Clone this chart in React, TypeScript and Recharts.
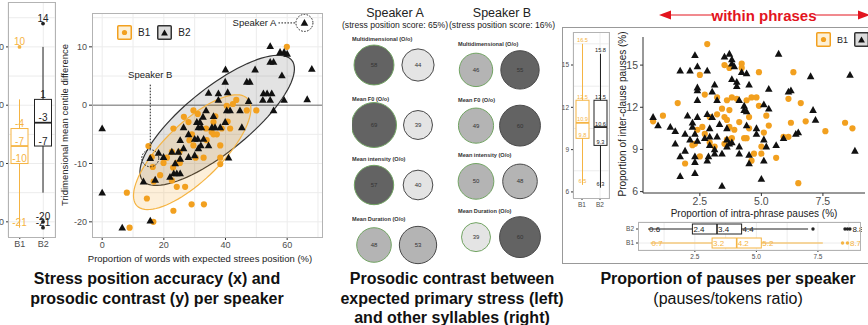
import React from 'react';
import {
  Bar,
  CartesianGrid,
  ComposedChart,
  ReferenceLine,
  Scatter,
  ScatterChart,
  XAxis,
  YAxis,
  ZAxis,
} from 'recharts';

const FONT = '"Liberation Sans", Arial, sans-serif';
const ORANGE = '#f2a01f';
const ORANGE_BOX = '#f5b443';
const GRID = '#ececec';
const FRAME = '#b3b3b3';
const TICK = '#4d4d4d';

// ---- panel 1: stress position accuracy vs prosodic contrast ----
const accuracyB1: [number, number][] = [
  [59.9, 10], [8, -15], [8.9, -21], [14.5, -16], [16.6, -20], [23.1, -18.1], [29, -17], [33, -17],
  [24.2, -14], [26.9, -14], [16.7, -13.1], [22.6, -12.9], [18.8, -12], [16.4, -10.6], [19.9, -9.9],
  [24.2, -9.9], [25.2, -9.9], [23, -10.7], [21, -9], [16.1, -8.9], [15, -7], [22.6, -8], [25.1, -8],
  [30.3, -9], [32.9, -9], [38.3, -9], [38.3, -10.1], [29.6, -6.9], [38.3, -6.9], [28.3, -6], [33.9, -6],
  [29.1, -5], [36.1, -5], [37.2, -5], [23.1, -4], [33.7, -4], [38.8, -4], [41.5, -4], [28, -2.9],
  [36.1, -2.9], [40.7, -2.8], [36.7, -1.9], [29.6, -0.9], [46.9, -0.9], [50, -0.9], [40.4, -0.1],
  [42.4, 0.2], [43.5, 0.9], [35.5, -4.6], [31, -1.5], [26.5, -2],
];
const accuracyB2: [number, number][] = [
  [0, -4], [0, -15], [6.5, -21], [15.6, -19.8], [13.4, -13.1], [15.6, -9.1], [17.2, -12.8], [18.3, -8.2],
  [19.9, -8.9], [22, -12.3], [22.6, -8], [23.2, -11.7], [24.2, -11.7], [25.3, -11.7], [23.7, -10],
  [25.3, -9.2], [24.7, -8], [26.4, -7.4], [25.3, -6], [28, -8.9], [30, -8.6], [28, -5], [26.4, -3.8],
  [30, -5.8], [31, -5.8], [32.9, -5.8], [32, -6.9], [34.5, -6.9], [31.2, -7.4], [31.2, -3.8], [32.2, -3.8],
  [30.7, -2.9], [31.7, -2.9], [32.7, -2], [33.7, -0.9], [34.5, 2.1], [35.6, -3.8], [36.6, -3.8],
  [36.1, -1.9], [37.7, 2], [37.7, 0.9], [38.3, -3.8], [39.9, -2.9], [40.4, -0.9], [41.5, -0.9], [41, -9],
  [44.7, -0.9], [45.3, -3.8], [39.9, 4], [40.7, 2.2], [40, 6.1], [46.9, 4], [47.9, 4], [47.5, 0.7],
  [49.6, 6.1], [52.3, 2], [53.5, 2], [55, 2], [52.1, 0.9], [54.5, 0.9], [55.6, -0.9], [54.5, 7.4],
  [55.6, 7.4], [54.5, 10.1], [57.7, 9.1], [59, 9.1], [58.3, 5.1], [59, 0.9], [60, 8.8], [65.6, 14.1],
  [68, 6.2], [66.5, 1],
];
const highlightedSpeakers = [
  { x: 65.6, y: 14.1, name: 'Speaker A', side: 'left' },
  { x: 15.6, y: -9.1, name: 'Speaker B', side: 'top' },
];
// data ellipses: centre and two conjugate half-axes, in data units
const ellipseB1 = { cx: 29.2, cy: -8.06, ux: 17.9, uy: 9.2, vx: 6.5, vy: -3.5 };
const ellipseB2 = { cx: 37.3, cy: -2.6, ux: 24.2, uy: 10.3, vx: 6.5, vy: -4.3 };

const contrastBoxes = [
  { g: 'B1', low: -21, q1: -10, med: -7, q3: -4, high: 1, out: [10], labels: [10, -4, -7, -10, -21] },
  { g: 'B2', low: -15, q1: -7, med: -3, q3: 1, high: 10, out: [14, -20, -21], labels: [14, 1, -3, -7, -20, -21] },
];

// ---- panel 2: prosodic contrast bubbles ----
const metrics = ['Multidimensional', 'Mean F0', 'Mean intensity', 'Mean Duration'];
const speakerAStressed = [58, 69, 57, 48];
const speakerAOther = [44, 39, 40, 53];
const speakerBStressed = [46, 49, 50, 39];
const speakerBOther = [55, 60, 48, 60];

// ---- panel 3: pauses ----
const pausesB1: [number, number][] = [
  [0.6, 11.0], [1.0, 11.4], [1.6, 12.3], [1.9, 8.0], [2.2, 9.3], [2.3, 9.4], [2.4, 10.4], [2.5, 14.3],
  [2.5, 8.5], [2.6, 10.6], [2.7, 12.9], [2.7, 10.1], [2.8, 16.5], [2.9, 11.3], [2.9, 9.5], [3.1, 9.2],
  [3.2, 11.5], [3.2, 12.7], [3.4, 11.9], [3.5, 11.3], [3.5, 15.0], [3.5, 9.4], [3.6, 9.7], [3.6, 11.1],
  [3.6, 12.5], [3.7, 11.8], [3.7, 14.8], [3.7, 10.6], [3.8, 12.7], [3.8, 9.8], [3.9, 10.4], [4.0, 12.6],
  [4.1, 10.95], [4.2, 15.1], [4.2, 14.8], [4.3, 9.8], [4.4, 12.5], [4.4, 9.8], [4.5, 10.5], [4.5, 11.3],
  [4.6, 12.7], [4.6, 8.2], [4.7, 8.7], [4.8, 12.7], [4.9, 14.5], [4.9, 12.1], [5.0, 9.2], [5.0, 8.7],
  [5.1, 10.2], [5.2, 11.4], [5.3, 10.7], [5.6, 8.4], [5.9, 9.9], [6.1, 9.9], [6.1, 12.6], [6.2, 10.9],
  [6.3, 14.5], [6.5, 6.6], [6.6, 12.3], [6.8, 11.0], [7.6, 10.3], [8.4, 10.9], [8.7, 10.5],
];
const pausesB2: [number, number][] = [
  [0.6, 11.3], [0.8, 10.7], [1.3, 10.6], [1.5, 10.3], [1.7, 14.6], [1.7, 7.1], [1.7, 8.5], [1.5, 9.4],
  [1.9, 8.9], [2.0, 11.4], [1.9, 10.1], [2.1, 14.6], [2.1, 9.7], [2.2, 10.9], [2.2, 10.6], [2.3, 15.7],
  [2.3, 7.3], [2.3, 8.5], [2.3, 8.1], [2.4, 13.4], [2.4, 13.2], [2.4, 14.9], [2.4, 12.5], [2.4, 11.3],
  [2.3, 10.1], [2.4, 9.6], [2.7, 9.8], [2.8, 14.6], [2.8, 11.5], [2.8, 8.2], [2.85, 8.5], [2.9, 10.5],
  [2.9, 9.9], [2.9, 9.3], [3.0, 11.3], [3.0, 13.1], [3.1, 13.6], [3.1, 8.7], [3.1, 9.0], [3.2, 12.5],
  [3.2, 9.9], [3.3, 10.8], [3.4, 6.4], [3.4, 8.7], [3.5, 15.6], [3.7, 15.8], [3.8, 15.4], [3.8, 15.1],
  [3.6, 10.5], [3.6, 9.2], [3.6, 9.7], [3.7, 9.4], [3.8, 9.5], [3.9, 14.9], [3.8, 14.0], [4.0, 13.8],
  [4.0, 13.5], [4.1, 12.5], [4.1, 9.2], [4.1, 8.7], [4.2, 14.5], [4.3, 12.1], [4.3, 11.8], [4.4, 11.7],
  [4.4, 14.4], [4.5, 13.6], [4.4, 10.7], [4.5, 8.6], [4.5, 8.0], [4.8, 10.5], [4.8, 10.1], [5.1, 9.7],
  [5.1, 12.2], [5.0, 6.9], [5.1, 8.2], [5.2, 9.2], [5.3, 11.9], [5.3, 13.3], [5.6, 9.3], [5.7, 15.8],
  [5.9, 9.8], [6.1, 13.1], [6.2, 13.2], [6.4, 10.1], [6.5, 10.2], [7.0, 14.2], [7.1, 11.8], [7.2, 11.1],
  [8.6, 14.3], [8.8, 8.9],
];
const interClauseBoxes = [
  { g: 'B1', low: 6.5, q1: 9.8, med: 10.9, q3: 12.5, high: 16.5, out: [] as number[], labels: [16.5, 12.5, 10.9, 9.8, 6.5] },
  { g: 'B2', low: 6.3, q1: 9.3, med: 10.6, q3: 12.5, high: 15.8, out: [] as number[], labels: [15.8, 12.5, 10.6, 9.3, 6.3] },
];
const intraPhraseBoxes = [
  { g: 'B2', low: 0.6, q1: 2.4, med: 3.4, q3: 4.4, high: 7.1, out: [7.3, 8.6, 8.7, 8.8], labels: [0.6, 2.4, 3.4, 4.4, 8.8] },
  { g: 'B1', low: 0.7, q1: 3.2, med: 4.2, q3: 5.2, high: 7.7, out: [8.5, 8.7], labels: [0.7, 3.2, 4.2, 5.2, 8.7] },
];

const toPoints = (arr: [number, number][]) => arr.map(([x, y]) => ({ x, y }));

function ellipsePoints(e: typeof ellipseB1) {
  const pts = [];
  for (let i = 0; i <= 90; i++) {
    const t = (i / 90) * Math.PI * 2;
    pts.push({
      x: e.cx + e.ux * Math.cos(t) + e.vx * Math.sin(t),
      y: e.cy + e.uy * Math.cos(t) + e.vy * Math.sin(t),
    });
  }
  return pts;
}

const triPath = (cx: number, cy: number, s = 4) =>
  `M${cx},${cy - s}L${cx + s * 0.95},${cy + s * 0.7}L${cx - s * 0.95},${cy + s * 0.7}Z`;

const TriangleShape = (p: any) => <path d={triPath(p.cx, p.cy)} fill="#111" />;
const DotShape = (p: any) => <circle cx={p.cx} cy={p.cy} r={3.1} fill={ORANGE} />;
const NoShape = () => <g />;

const SpeakerMark = (p: any) => {
  const { cx, cy, payload } = p;
  const dash = '1.6 1.4';
  return (
    <g>
      <circle cx={cx} cy={cy} r={8.5} fill="none" stroke="#222" strokeDasharray={dash} />
      {payload.side === 'left' ? (
        <>
          <line x1={cx - 26} y1={cy} x2={cx - 9} y2={cy} stroke="#222" strokeDasharray={dash} />
          <text x={cx - 28} y={cy + 3.5} textAnchor="end" fontSize={9.5} fill="#222" fontFamily={FONT}>
            {payload.name}
          </text>
        </>
      ) : (
        <>
          <line x1={cx} y1={cy - 9} x2={cx} y2={cy - 75} stroke="#222" strokeDasharray={dash} />
          <text x={cx} y={cy - 80} textAnchor="middle" fontSize={9.5} fill="#222" fontFamily={FONT}>
            {payload.name}
          </text>
        </>
      )}
    </g>
  );
};

// vertical box: the bar spans low..high, the rest is placed on the same linear scale
const makeVBox = (colorOf: (g: string) => string, fs: number, fmt: (v: number) => string) => (p: any) => {
  const { x, y, width, height, payload } = p;
  const top = Math.min(y, y + height);
  const bot = Math.max(y, y + height);
  const py = (v: number) => bot - ((v - payload.low) / (payload.high - payload.low)) * (bot - top);
  const cx = x + width / 2;
  const c = colorOf(payload.g);
  return (
    <g>
      <line x1={cx} x2={cx} y1={py(payload.high)} y2={py(payload.low)} stroke={c} strokeWidth={1} />
      <rect x={x} y={py(payload.q3)} width={width} height={py(payload.q1) - py(payload.q3)} fill="#fff" stroke={c} strokeWidth={1} />
      <line x1={x} x2={x + width} y1={py(payload.med)} y2={py(payload.med)} stroke={c} strokeWidth={1.8} />
      {payload.out.map((v: number, i: number) => (
        <circle key={i} cx={cx} cy={py(v)} r={1.9} fill={c} />
      ))}
      {payload.labels.map((v: number, i: number) => (
        <text key={i} x={cx} y={py(v) - 1.5} textAnchor="middle" fontSize={fs} fill={c} fontFamily={FONT}>
          {fmt(v)}
        </text>
      ))}
    </g>
  );
};

const HBox = (p: any) => {
  const { x, y, width, height, payload } = p;
  const left = Math.min(x, x + width);
  const right = Math.max(x, x + width);
  const px = (v: number) => left + ((v - payload.low) / (payload.high - payload.low)) * (right - left);
  const cy = y + height / 2;
  const c = payload.g === 'B1' ? ORANGE_BOX : '#222';
  return (
    <g>
      <line x1={px(payload.low)} x2={px(payload.high)} y1={cy} y2={cy} stroke={c} />
      <rect x={px(payload.q1)} y={y} width={px(payload.q3) - px(payload.q1)} height={height} fill="#fff" stroke={c} />
      <line x1={px(payload.med)} x2={px(payload.med)} y1={y} y2={y + height} stroke={c} strokeWidth={1.6} />
      {payload.out.map((v: number, i: number) => (
        <circle key={i} cx={px(v)} cy={cy} r={1.7} fill={c} />
      ))}
      {payload.labels.map((v: number, i: number) => (
        <text
          key={i}
          x={px(v) + (payload.out.includes(v) ? 2.5 : 1)}
          y={cy + 3}
          fontSize={8}
          fill={c}
          fontFamily={FONT}
        >
          {v.toFixed(1)}
        </text>
      ))}
    </g>
  );
};

const Bubble = (p: any) => {
  const { cx, cy, width, payload, labelDx } = p;
  const r = width / 2;
  const v = payload.v;
  const fill = v >= 55 ? '#636363' : v >= 45 ? '#b4b4b4' : '#e4e4e4';
  const stroke = payload.col === 0 ? '#72a463' : '#4a4a4a';
  return (
    <g>
      <circle cx={cx} cy={cy} r={r} fill={fill} stroke={stroke} strokeWidth={1} />
      <text x={cx} y={cy + 2} textAnchor="middle" fontSize={6} fill="#333" fontFamily={FONT}>
        {v}
      </text>
      {payload.col === 0 && (
        <text x={cx + labelDx} y={cy - 24} fontSize={5.6} fontWeight="bold" fill="#333" fontFamily={FONT}>
          {payload.metric} (O/o)
        </text>
      )}
    </g>
  );
};

function bubbleRows(stressed: number[], other: number[]) {
  return metrics.flatMap((m, i) => [
    { metric: m, row: i, col: 0, v: stressed[i] },
    { metric: m, row: i, col: 1, v: other[i] },
  ]);
}

function BubbleChart({ stressed, other, height, labelDx }: { stressed: number[]; other: number[]; height: number; labelDx: number }) {
  return (
    <ScatterChart width={88} height={height} margin={{ top: 0, right: 0, bottom: 0, left: 0 }}>
      <XAxis type="number" dataKey="col" domain={[-0.5, 1.5]} hide />
      <YAxis type="number" dataKey="row" domain={[-0.5, 3.5]} reversed hide />
      <ZAxis type="number" dataKey="v" domain={[39, 69]} range={[660, 1590]} />
      <Scatter
        data={bubbleRows(stressed, other)}
        shape={(p: any) => <Bubble {...p} labelDx={labelDx} />}
        isAnimationActive={false}
      />
    </ScatterChart>
  );
}

const abs = (left: number, top: number, extra: React.CSSProperties = {}): React.CSSProperties => ({
  position: 'absolute',
  left,
  top,
  ...extra,
});

const frame = (left: number, top: number, w: number, h: number): React.CSSProperties => ({
  position: 'absolute',
  left,
  top,
  width: w,
  height: h,
  border: `1px solid ${FRAME}`,
  boxSizing: 'border-box',
  pointerEvents: 'none',
});

const caption: React.CSSProperties = {
  position: 'absolute',
  width: 320,
  textAlign: 'center',
  fontSize: 16,
  lineHeight: '19.5px',
  color: '#111',
  fontFamily: FONT,
};

function LegendBox({ kind }: { kind: 'B1' | 'B2' }) {
  return (
    <svg width={15} height={15} style={{ display: 'block' }}>
      {kind === 'B1' ? (
        <>
          <rect x={0.75} y={0.75} width={13.5} height={13.5} fill="#fdf0d6" stroke={ORANGE} strokeWidth={1.5} rx={1} />
          <circle cx={7.5} cy={7.5} r={2.6} fill={ORANGE} />
        </>
      ) : (
        <>
          <rect x={0.75} y={0.75} width={13.5} height={13.5} fill="#dcdcdc" stroke="#333" strokeWidth={1.5} rx={1} />
          <path d={triPath(7.5, 8, 3.6)} fill="#111" />
        </>
      )}
    </svg>
  );
}

export default function App() {
  const tickStyle = { fontSize: 9, fill: TICK, fontFamily: FONT };
  const smallTick = { fontSize: 6.5, fill: TICK, fontFamily: FONT };
  return (
    <div
      style={{
        position: 'absolute',
        left: 0,
        top: 0,
        width: 868,
        height: 325,
        overflow: 'hidden',
        background: '#fff',
        fontFamily: FONT,
      }}
    >
      {/* panel 1, marginal box plot */}
      <div style={abs(0, 0)}>
        <ComposedChart width={56} height={250} data={contrastBoxes} margin={{ top: 2, right: 1, bottom: 0, left: 0 }}>
          <CartesianGrid stroke={GRID} horizontalValues={[-20, -15, -10, -5, 0, 5, 10, 15]} />
          <XAxis dataKey="g" type="category" height={13} tick={tickStyle} tickSize={2} axisLine={false} tickLine={{ stroke: '#333' }} />
          <YAxis type="number" domain={[-22.6, 17.7]} ticks={[-20, -10, 0, 10]} width={8} tick={tickStyle} tickSize={2} axisLine={false} tickLine={{ stroke: '#333' }} />
          <Bar
            dataKey={(d: any) => [d.low, d.high]}
            barSize={17}
            isAnimationActive={false}
            shape={makeVBox((g) => (g === 'B1' ? ORANGE_BOX : '#222'), 10, (v) => String(v))}
          />
        </ComposedChart>
      </div>
      <div style={frame(8, 2, 48, 236)} />

      {/* panel 1, scatter */}
      <div style={abs(60, 0)}>
        <ScatterChart width={264} height={268} margin={{ top: 13, right: 2, bottom: 0, left: 0 }}>
          <CartesianGrid
            stroke={GRID}
            verticalValues={[0, 10, 20, 30, 40, 50, 60, 70]}
            horizontalValues={[-20, -15, -10, -5, 5, 10, 15]}
          />
          <XAxis type="number" dataKey="x" domain={[-3.3, 71.3]} ticks={[0, 20, 40, 60]} height={31} tick={tickStyle} tickSize={3} axisLine={false} tickLine={{ stroke: '#333' }} />
          <YAxis type="number" dataKey="y" domain={[-22.6, 15.8]} ticks={[-20, -10, 0, 10]} width={32} tick={tickStyle} tickSize={3} axisLine={false} tickLine={{ stroke: '#333' }} />
          <ReferenceLine y={0} stroke="#555" strokeWidth={0.9} />
          <Scatter
            data={ellipsePoints(ellipseB2)}
            line={{ stroke: '#333', strokeWidth: 1.2, fill: 'rgba(0,0,0,0.11)' }}
            shape={NoShape}
            isAnimationActive={false}
          />
          <Scatter
            data={ellipsePoints(ellipseB1)}
            line={{ stroke: ORANGE_BOX, strokeWidth: 1.2, fill: 'rgba(242,160,31,0.17)' }}
            shape={NoShape}
            isAnimationActive={false}
          />
          <Scatter data={toPoints(accuracyB1)} shape={DotShape} isAnimationActive={false} />
          <Scatter data={toPoints(accuracyB2)} shape={TriangleShape} isAnimationActive={false} />
          <Scatter data={highlightedSpeakers} shape={SpeakerMark} isAnimationActive={false} />
        </ScatterChart>
      </div>
      <div style={frame(92, 13, 231, 225)} />
      <div style={abs(117, 25, { display: 'flex', alignItems: 'center', fontSize: 10, color: '#222' })}>
        <LegendBox kind="B1" />
        <span style={{ margin: '0 7px 0 6px' }}>B1</span>
        <LegendBox kind="B2" />
        <span style={{ marginLeft: 6 }}>B2</span>
      </div>
      <div
        style={abs(64, 125, {
          transform: 'translate(-50%, -50%) rotate(-90deg)',
          whiteSpace: 'nowrap',
          fontSize: 9.5,
          color: '#222',
        })}
      >
        Tridimensional mean centile difference
      </div>
      <div style={abs(200, 258, { transform: 'translate(-50%, -50%)', whiteSpace: 'nowrap', fontSize: 9.5, color: '#222' })}>
        Proportion of words with expected strees position (%)
      </div>

      {/* panel 2, bubbles */}
      <div style={abs(395, 13, { transform: 'translate(-50%, -50%)', whiteSpace: 'nowrap', fontSize: 12.5, color: '#222' })}>
        Speaker A
      </div>
      <div style={abs(395, 24.5, { transform: 'translate(-50%, -50%)', whiteSpace: 'nowrap', fontSize: 8.6, color: '#222' })}>
        (stress position score: 65%)
      </div>
      <div style={abs(502, 13, { transform: 'translate(-50%, -50%)', whiteSpace: 'nowrap', fontSize: 12.5, color: '#222' })}>
        Speaker B
      </div>
      <div style={abs(502, 24.5, { transform: 'translate(-50%, -50%)', whiteSpace: 'nowrap', fontSize: 8.6, color: '#222' })}>
        (stress position score: 16%)
      </div>
      <div style={abs(352, 35)}>
        <BubbleChart stressed={speakerAStressed} other={speakerAOther} height={240} labelDx={-22} />
      </div>
      <div style={abs(454, 42)}>
        <BubbleChart stressed={speakerBStressed} other={speakerBOther} height={223} labelDx={-18} />
      </div>

      {/* panel 3 */}
      <svg width={868} height={30} style={abs(0, 0)}>
        <line x1={668} x2={714} y1={15} y2={15} stroke="#e3141e" strokeWidth={1} />
        <path d="M659,15 L671,10.5 L671,19.5 Z" fill="#e3141e" />
        <line x1={815} x2={862} y1={15} y2={15} stroke="#e3141e" strokeWidth={1} />
        <path d="M870,15 L858,10.5 L858,19.5 Z" fill="#e3141e" />
        <text x={764} y={20.5} textAnchor="middle" fontSize={15} fontWeight="bold" fill="#e3141e" fontFamily={FONT}>
          within phrases
        </text>
      </svg>
      <div style={{ ...frame(562, 27, 320, 237), borderColor: '#999' }} />

      <div style={abs(555, 0)}>
        <ComposedChart width={56} height={210} data={interClauseBoxes} margin={{ top: 32, right: 2, bottom: 0, left: 0 }}>
          <CartesianGrid stroke={GRID} horizontalValues={[6, 7.5, 9, 10.5, 12, 13.5, 15, 16.5]} />
          <XAxis dataKey="g" type="category" height={12} tick={smallTick} tickSize={2} axisLine={false} tickLine={{ stroke: '#333' }} />
          <YAxis type="number" domain={[5.57, 17.34]} ticks={[6, 9, 12, 15]} width={18} tick={smallTick} tickSize={2} axisLine={false} tickLine={{ stroke: '#333' }} />
          <Bar
            dataKey={(d: any) => [d.low, d.high]}
            barSize={13}
            isAnimationActive={false}
            shape={makeVBox((g) => (g === 'B1' ? ORANGE_BOX : '#222'), 5.6, (v) => v.toFixed(1))}
          />
        </ComposedChart>
      </div>
      <div style={frame(573, 32, 37, 167)} />

      <div style={abs(600, 0)}>
        <ScatterChart width={270} height={222} margin={{ top: 37, right: 5, bottom: 0, left: 0 }}>
          <XAxis
            type="number"
            dataKey="x"
            domain={[0.19, 9.21]}
            ticks={[2.5, 5, 7.5]}
            tickFormatter={(v: number) => v.toFixed(1)}
            height={29}
            tick={{ ...tickStyle, fontSize: 10.5 }}
            tickSize={3}
            axisLine={{ stroke: '#333' }}
            tickLine={{ stroke: '#333' }}
          />
          <YAxis
            type="number"
            dataKey="y"
            domain={[5.9, 17]}
            ticks={[6, 9, 12, 15]}
            width={43}
            tick={{ ...tickStyle, fontSize: 10.5 }}
            tickSize={3}
            axisLine={{ stroke: '#333' }}
            tickLine={{ stroke: '#333' }}
          />
          <Scatter data={toPoints(pausesB1)} shape={DotShape} isAnimationActive={false} />
          <Scatter data={toPoints(pausesB2)} shape={TriangleShape} isAnimationActive={false} />
        </ScatterChart>
      </div>
      <div style={abs(816, 32, { display: 'flex', alignItems: 'center', fontSize: 9, color: '#222' })}>
        <LegendBox kind="B1" />
        <span style={{ margin: '0 6px 0 6px' }}>B1</span>
        <LegendBox kind="B2" />
        <span style={{ marginLeft: 5 }}>B2</span>
      </div>
      <div
        style={abs(622, 114, {
          transform: 'translate(-50%, -50%) rotate(-90deg)',
          whiteSpace: 'nowrap',
          fontSize: 10,
          color: '#222',
        })}
      >
        Proportion of inter-clause pauses (%)
      </div>
      <div style={abs(754, 213, { transform: 'translate(-50%, -50%)', whiteSpace: 'nowrap', fontSize: 10, color: '#222' })}>
        Proportion of intra-phrase pauses (%)
      </div>

      <div style={abs(600, 215)}>
        <ComposedChart
          layout="vertical"
          width={262}
          height={50}
          data={intraPhraseBoxes}
          margin={{ top: 7, right: 2, bottom: 0, left: 0 }}
        >
          <CartesianGrid stroke={GRID} verticalValues={[1.25, 2.5, 3.75, 5, 6.25, 7.5, 8.75]} />
          <XAxis type="number" domain={[0.19, 9.21]} ticks={[2.5, 5, 7.5]} tickFormatter={(v: number) => v.toFixed(1)} height={15} tick={smallTick} tickSize={2} axisLine={false} tickLine={{ stroke: '#333' }} />
          <YAxis type="category" dataKey="g" width={38} tick={smallTick} tickSize={2} axisLine={false} tickLine={{ stroke: '#333' }} />
          <Bar dataKey={(d: any) => [d.low, d.high]} barSize={10} isAnimationActive={false} shape={HBox} />
        </ComposedChart>
      </div>
      <div style={frame(638, 222, 223, 29)} />

      {/* captions */}
      <div style={{ ...caption, left: 157 - 160, top: 269, fontWeight: 'bold' }}>
        Stress position accuracy (x) and
        <br />
        prosodic contrast (y) per speaker
      </div>
      <div style={{ ...caption, left: 452 - 160, top: 269, fontWeight: 'bold' }}>
        Prosodic contrast between
        <br />
        expected primary stress (left)
        <br />
        and other syllables (right)
      </div>
      <div style={{ ...caption, left: 728 - 160, top: 269 }}>
        <b>Proportion of pauses per speaker</b>
        <br />
        (pauses/tokens ratio)
      </div>
    </div>
  );
}
